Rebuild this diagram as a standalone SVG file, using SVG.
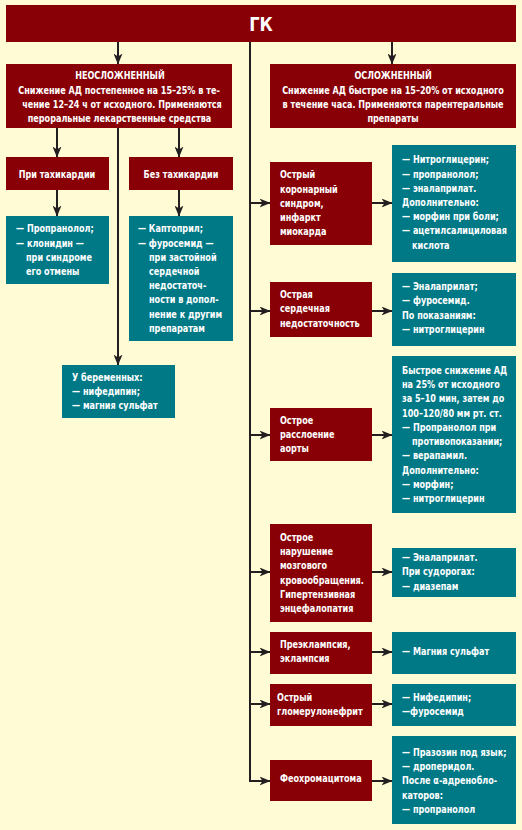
<svg xmlns="http://www.w3.org/2000/svg" width="522" height="830" viewBox="0 0 522 830">
<defs>
<style>
.bg{fill:#FFFCD5}
.red{fill:#880006}
.teal{fill:#007987}
text{font-family:"DejaVu Sans Condensed","Liberation Sans",sans-serif;font-weight:bold;font-size:10px;fill:#ffffff}
.c{text-anchor:middle}
.t{font-size:20px}
#connectors path{stroke:#231f20;stroke-width:2;fill:none;marker-end:url(#arr)}
</style>
<marker id="arr" markerUnits="userSpaceOnUse" markerWidth="11" markerHeight="9" refX="10.5" refY="4.5" orient="auto">
<path d="M0,0 L11,4.5 L0,9 L3,4.5 z" fill="#231f20"/>
</marker>
</defs>
<rect class="bg" x="0" y="0" width="522" height="830"/>

<g id="connectors">
<path d="M118,42 V64"/>
<path d="M392,42 V64"/>
<path d="M250,42 V781 H270"/>
<path d="M250,203 H270"/>
<path d="M250,311 H270"/>
<path d="M250,435 H270"/>
<path d="M250,572 H270"/>
<path d="M250,652 H270"/>
<path d="M250,704 H270"/>
<path d="M57,128 V157"/>
<path d="M179,128 V157"/>
<path d="M118,128 V365"/>
<path d="M57,190 V216"/>
<path d="M179,190 V216"/>
<path d="M372,203 H392"/>
<path d="M372,311 H392"/>
<path d="M372,435 H392"/>
<path d="M372,572 H392"/>
<path d="M372,652 H392"/>
<path d="M372,704 H392"/>
<path d="M372,781 H392"/>
</g>

<g id="gk">
<rect class="red" x="6" y="5" width="510" height="37"/>
<g transform="scale(0.9 1)"><text class="c t" x="290" y="31">ГК</text></g>
</g>

<g id="neosl">
<rect class="red" x="6" y="64" width="226" height="64"/>
<g transform="scale(0.9 1)">
<text class="c" x="133.3" y="79">НЕОСЛОЖНЕННЫЙ</text>
<text class="c" x="132.2" y="94">Снижение АД постепенное на 15–25% в те-</text>
<text class="c" x="135.6" y="108">чение 12–24 ч от исходного. Применяются</text>
<text class="c" x="132.8" y="122">пероральные лекарственные средства</text>
</g>
</g>

<g id="osl">
<rect class="red" x="270" y="64" width="246" height="64"/>
<g transform="scale(0.9 1)">
<text class="c" x="436.7" y="79">ОСЛОЖНЕННЫЙ</text>
<text class="c" x="436.7" y="94">Снижение АД быстрое на 15–20% от исходного</text>
<text class="c" x="436.7" y="108">в течение часа. Применяются парентеральные</text>
<text class="c" x="436.7" y="122">препараты</text>
</g>
</g>

<g id="tachy">
<rect class="red" x="6" y="157" width="103" height="33"/>
<g transform="scale(0.9 1)"><text class="c" x="63.3" y="178">При тахикардии</text></g>
</g>

<g id="notachy">
<rect class="red" x="129" y="157" width="104" height="33"/>
<g transform="scale(0.9 1)"><text class="c" x="201.1" y="178">Без тахикардии</text></g>
</g>

<g id="tachy-drugs">
<rect class="teal" x="6" y="216" width="103" height="68"/>
<g transform="scale(0.9 1)">
<text x="17.8" y="232">— Пропранолол;</text>
<text x="17.8" y="247">— клонидин —</text>
<text x="28.9" y="261">при синдроме</text>
<text x="28.9" y="275">его отмены</text>
</g>
</g>

<g id="notachy-drugs">
<rect class="teal" x="129" y="216" width="104" height="125"/>
<g transform="scale(0.9 1)">
<text x="153.3" y="232">— Каптоприл;</text>
<text x="153.3" y="247">— фуросемид —</text>
<text x="165.6" y="261">при застойной</text>
<text x="165.6" y="275">сердечной</text>
<text x="165.6" y="289">недостаточ-</text>
<text x="165.6" y="303">ности в допол-</text>
<text x="165.6" y="318">нение к другим</text>
<text x="165.6" y="332">препаратам</text>
</g>
</g>

<g id="pregnant">
<rect class="teal" x="62" y="365" width="113" height="53"/>
<g transform="scale(0.9 1)">
<text x="80" y="381">У беременных:</text>
<text x="80" y="395">— нифедипин;</text>
<text x="80" y="409">— магния сульфат</text>
</g>
</g>

<g id="acs">
<rect class="red" x="270" y="162" width="102" height="83"/>
<g transform="scale(0.9 1)">
<text x="311.1" y="178">Острый</text>
<text x="311.1" y="193">коронарный</text>
<text x="311.1" y="207">синдром,</text>
<text x="311.1" y="221">инфаркт</text>
<text x="311.1" y="235">миокарда</text>
</g>
</g>
<g id="acs-drugs">
<rect class="teal" x="392" y="145" width="124" height="117"/>
<g transform="scale(0.9 1)">
<text x="446.7" y="163">— Нитроглицерин;</text>
<text x="446.7" y="178">— пропранолол;</text>
<text x="446.7" y="192">— эналаприлат.</text>
<text x="446.7" y="206">Дополнительно:</text>
<text x="446.7" y="220">— морфин при боли;</text>
<text x="446.7" y="234">— ацетилсалициловая</text>
<text x="457.8" y="249">кислота</text>
</g>
</g>

<g id="ahf">
<rect class="red" x="270" y="282" width="102" height="55"/>
<g transform="scale(0.9 1)">
<text x="311.1" y="298">Острая</text>
<text x="311.1" y="312">сердечная</text>
<text x="311.1" y="327">недостаточность</text>
</g>
</g>
<g id="ahf-drugs">
<rect class="teal" x="392" y="273" width="124" height="73"/>
<g transform="scale(0.9 1)">
<text x="446.7" y="290">— Эналаприлат;</text>
<text x="446.7" y="304">— фуросемид.</text>
<text x="446.7" y="319">По показаниям:</text>
<text x="446.7" y="333">— нитроглицерин</text>
</g>
</g>

<g id="aorta">
<rect class="red" x="270" y="408" width="102" height="53"/>
<g transform="scale(0.9 1)">
<text x="311.1" y="424">Острое</text>
<text x="311.1" y="438">расслоение</text>
<text x="311.1" y="452">аорты</text>
</g>
</g>
<g id="aorta-drugs">
<rect class="teal" x="392" y="356" width="124" height="157"/>
<g transform="scale(0.9 1)">
<text x="446.7" y="374">Быстрое снижение АД</text>
<text x="446.7" y="388">на 25% от исходного</text>
<text x="446.7" y="402">за 5–10 мин, затем до</text>
<text x="446.7" y="417">100–120/80 мм рт. ст.</text>
<text x="446.7" y="431">— Пропранолол при</text>
<text x="457.8" y="445">противопоказании;</text>
<text x="446.7" y="459">— верапамил.</text>
<text x="446.7" y="474">Дополнительно:</text>
<text x="446.7" y="488">— морфин;</text>
<text x="446.7" y="502">— нитроглицерин</text>
</g>
</g>

<g id="stroke">
<rect class="red" x="270" y="524" width="102" height="98"/>
<g transform="scale(0.9 1)">
<text x="311.1" y="541">Острое</text>
<text x="311.1" y="555">нарушение</text>
<text x="311.1" y="569">мозгового</text>
<text x="311.1" y="584">кровообращения.</text>
<text x="311.1" y="598">Гипертензивная</text>
<text x="311.1" y="612">энцефалопатия</text>
</g>
</g>
<g id="stroke-drugs">
<rect class="teal" x="392" y="548" width="124" height="49"/>
<g transform="scale(0.9 1)">
<text x="446.7" y="561">— Эналаприлат.</text>
<text x="446.7" y="575">При судорогах:</text>
<text x="446.7" y="590">— диазепам</text>
</g>
</g>

<g id="eclampsia">
<rect class="red" x="270" y="632" width="102" height="42"/>
<g transform="scale(0.9 1)">
<text x="311.1" y="648">Преэклампсия,</text>
<text x="311.1" y="662">эклампсия</text>
</g>
</g>
<g id="eclampsia-drugs">
<rect class="teal" x="392" y="632" width="124" height="42"/>
<g transform="scale(0.9 1)">
<text x="446.7" y="655">— Магния сульфат</text>
</g>
</g>

<g id="gn">
<rect class="red" x="270" y="684" width="102" height="42"/>
<g transform="scale(0.9 1)">
<text x="307.8" y="701">Острый</text>
<text x="307.8" y="715">гломерулонефрит</text>
</g>
</g>
<g id="gn-drugs">
<rect class="teal" x="392" y="684" width="124" height="42"/>
<g transform="scale(0.9 1)">
<text x="446.7" y="701">— Нифедипин;</text>
<text x="446.7" y="715">—фуросемид</text>
</g>
</g>

<g id="pheo">
<rect class="red" x="270" y="760" width="102" height="41"/>
<g transform="scale(0.9 1)">
<text x="311.1" y="782">Феохромацитома</text>
</g>
</g>
<g id="pheo-drugs">
<rect class="teal" x="392" y="736" width="124" height="88"/>
<g transform="scale(0.9 1)">
<text x="446.7" y="756">— Празозин под язык;</text>
<text x="446.7" y="770">— дроперидол.</text>
<text x="446.7" y="784">После α-адренобло-</text>
<text x="446.7" y="799">каторов:</text>
<text x="446.7" y="813">— пропранолол</text>
</g>
</g>
</svg>
